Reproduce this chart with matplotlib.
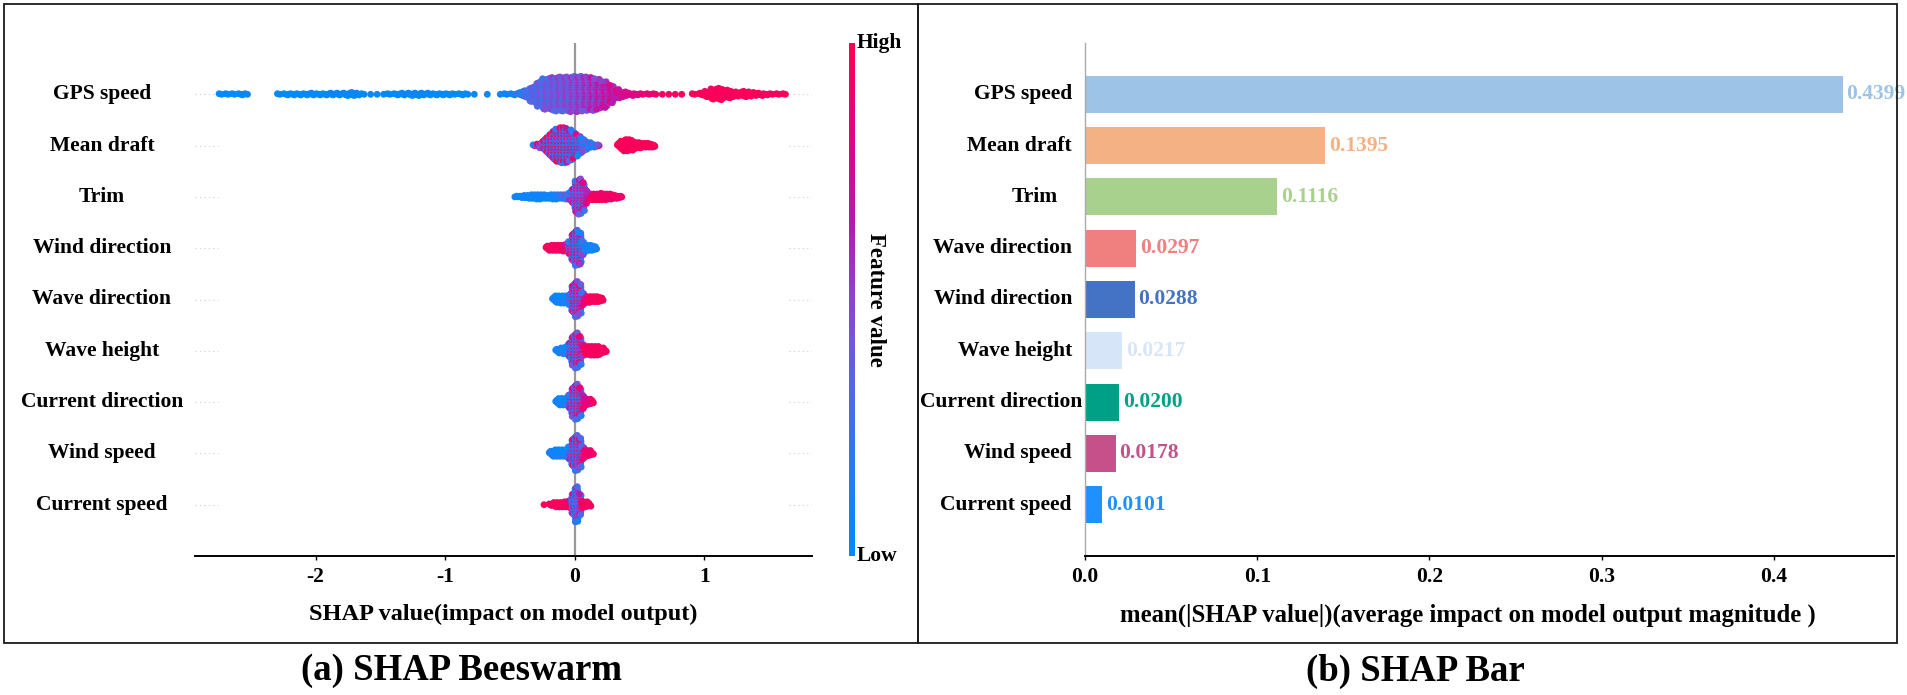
import numpy as np
import matplotlib
matplotlib.use("Agg")
import matplotlib.pyplot as plt
from matplotlib import transforms
from matplotlib.colors import LinearSegmentedColormap
from matplotlib.patches import Rectangle

plt.rcParams["font.family"] = ["Liberation Serif", "DejaVu Serif"]
plt.rcParams["font.weight"] = "bold"
plt.rcParams["axes.unicode_minus"] = False

W, H = 1908, 695

# ---- beeswarm data: per feature, bins (start, width) with sample counts,
# mean feature value (0=low, 1=high) and colour spread inside each bin ----
SWARM_FEATURES = ["GPS speed", "Mean draft", "Trim", "Wind direction", "Wave direction",
                  "Wave height", "Current direction", "Wind speed", "Current speed"]

GPS_START, GPS_WIDTH = -2.75, 0.05
GPS_N = [2, 2, 2, 3, 2, 0, 0, 0, 0,
         2, 3, 3, 3, 3, 4, 3, 3, 4, 4, 5, 6, 4, 2,
         1, 1, 1, 2,
         3, 4, 5, 5, 4, 4, 3, 3, 3, 2, 3, 2, 1,
         0, 1, 0, 1, 2,
         3, 6, 12, 25, 42, 52, 56, 58, 58, 60, 60, 58, 56, 52, 45, 30, 16, 9, 5, 3, 2, 2, 2, 1, 1, 1, 1, 0,
         2, 4, 10, 18, 20, 14, 10, 8, 10, 7, 5, 3, 2, 2, 2]
GPS_C = ([0.03] * 41 + [0.05, 0.05, 0.06, 0.08] +
         [0.12, 0.18, 0.24, 0.30, 0.34, 0.37, 0.40, 0.42, 0.44, 0.46, 0.49, 0.52, 0.56, 0.60,
          0.64, 0.68, 0.72, 0.76, 0.80, 0.84, 0.87, 0.88, 0.90, 0.90, 0.92, 0.92, 0.93, 0.95] +
         [0.97] * 15)
GPS_S = [0.02] * 47 + [0.13] * 15 + [0.02] * 26

DRAFT_START, DRAFT_WIDTH = -0.325, 0.025
DRAFT_N = [2, 4, 8, 14, 22, 30, 38, 44, 48, 48, 46, 42, 36, 30, 24, 18, 12, 8, 5, 3, 2,
           0, 0, 0, 0, 0,
           6, 12, 16, 16, 14, 10, 8, 7, 6, 6, 5, 3]
DRAFT_C = ([0.5, 0.55, 0.55, 0.6, 0.6, 0.6, 0.55, 0.55, 0.5, 0.5, 0.5, 0.45, 0.45, 0.4, 0.35,
            0.3, 0.25, 0.2, 0.2, 0.3, 0.6] + [0.0] * 5 + [0.97] * 12)
DRAFT_S = [0.45] * 15 + [0.25] * 6 + [0.0] * 5 + [0.02] * 12

TRIM_START, TRIM_WIDTH = -0.475, 0.025
TRIM_N = [1, 2, 3, 4, 5, 6, 6, 7, 7, 6, 5, 6, 7, 7, 6, 6, 7, 10, 22, 45, 50, 40, 20, 10,
          9, 9, 9, 10, 9, 8, 7, 5, 3, 2]
TRIM_C = [0.06] * 13 + [0.10, 0.15, 0.22, 0.30, 0.38, 0.48, 0.52, 0.52, 0.55, 0.62, 0.75] + [0.93] * 10
TRIM_S = [0.04] * 13 + [0.1, 0.1, 0.15, 0.2, 0.25, 0.3, 0.3, 0.3, 0.3, 0.25, 0.15] + [0.04] * 10

WINDDIR_START, WINDDIR_WIDTH = -0.225, 0.025
WINDDIR_N = [6, 8, 8, 8, 8, 9, 10, 18, 40, 50, 45, 20, 9, 8, 7, 4]
WINDDIR_C = [0.95] * 6 + [0.85, 0.6, 0.5, 0.45, 0.4, 0.3] + [0.08] * 4
WINDDIR_S = [0.03] * 6 + [0.1, 0.35, 0.4, 0.4, 0.4, 0.3] + [0.05] * 4

WAVEDIR_START, WAVEDIR_WIDTH = -0.175, 0.025
WAVEDIR_N = [6, 10, 11, 11, 10, 16, 40, 50, 42, 18, 9, 9, 8, 8, 7, 4]
WAVEDIR_C = [0.08] * 5 + [0.3, 0.5, 0.55, 0.55, 0.6, 0.8] + [0.96] * 5
WAVEDIR_S = [0.05] * 5 + [0.25, 0.4, 0.4, 0.4, 0.35, 0.15] + [0.02] * 5

WAVEH_START, WAVEH_WIDTH = -0.15, 0.025
WAVEH_N = [5, 8, 9, 10, 22, 42, 50, 40, 16, 12, 13, 13, 13, 12, 8, 3]
WAVEH_C = [0.08] * 4 + [0.35, 0.5, 0.5, 0.55, 0.7] + [0.95] * 7
WAVEH_S = [0.05] * 4 + [0.35, 0.4, 0.4, 0.4, 0.25] + [0.03] * 7

CURDIR_START, CURDIR_WIDTH = -0.15, 0.025
CURDIR_N = [6, 10, 10, 10, 20, 42, 50, 40, 20, 10, 8, 4]
CURDIR_C = [0.08] * 4 + [0.4, 0.5, 0.5, 0.55, 0.65] + [0.85, 0.85, 0.9]
CURDIR_S = [0.05] * 4 + [0.35, 0.4, 0.4, 0.4, 0.3] + [0.1] * 3

WINDSP_START, WINDSP_WIDTH = -0.2, 0.025
WINDSP_N = [6, 9, 10, 10, 10, 11, 18, 40, 50, 42, 18, 10, 8, 3]
WINDSP_C = [0.08] * 6 + [0.35, 0.45, 0.45, 0.5, 0.6] + [0.92] * 3
WINDSP_S = [0.05] * 6 + [0.35, 0.4, 0.4, 0.4, 0.3] + [0.05] * 3

CURSP_START, CURSP_WIDTH = -0.25, 0.025
CURSP_N = [1, 0, 3, 6, 7, 7, 8, 8, 10, 30, 50, 30, 10, 8, 5]
CURSP_C = [0.96] * 9 + [0.4, 0.35, 0.4] + [0.95] * 3
CURSP_S = [0.02] * 8 + [0.2] + [0.3, 0.3, 0.3] + [0.02] * 3

SWARM_DATA = [
    (GPS_START, GPS_WIDTH, GPS_N, GPS_C, GPS_S),
    (DRAFT_START, DRAFT_WIDTH, DRAFT_N, DRAFT_C, DRAFT_S),
    (TRIM_START, TRIM_WIDTH, TRIM_N, TRIM_C, TRIM_S),
    (WINDDIR_START, WINDDIR_WIDTH, WINDDIR_N, WINDDIR_C, WINDDIR_S),
    (WAVEDIR_START, WAVEDIR_WIDTH, WAVEDIR_N, WAVEDIR_C, WAVEDIR_S),
    (WAVEH_START, WAVEH_WIDTH, WAVEH_N, WAVEH_C, WAVEH_S),
    (CURDIR_START, CURDIR_WIDTH, CURDIR_N, CURDIR_C, CURDIR_S),
    (WINDSP_START, WINDSP_WIDTH, WINDSP_N, WINDSP_C, WINDSP_S),
    (CURSP_START, CURSP_WIDTH, CURSP_N, CURSP_C, CURSP_S),
]
SWARM_TICKS = [-2, -1, 0, 1]

# ---- bar data ----
BAR_FEATURES = ["GPS speed", "Mean draft", "Trim", "Wave direction", "Wind direction",
                "Wave height", "Current direction", "Wind speed", "Current speed"]
BAR_VALUES = [0.4399, 0.1395, 0.1116, 0.0297, 0.0288, 0.0217, 0.0200, 0.0178, 0.0101]
BAR_COLORS = ["#9DC3E6", "#F4B183", "#A9D18E", "#F08080", "#4472C4",
              "#D6E5F7", "#00A087", "#C5508A", "#1E90FF"]
BAR_TICKS = [0.0, 0.1, 0.2, 0.3, 0.4]

cmap = LinearSegmentedColormap.from_list(
    "shap_red_blue",
    [(0.0, "#008BFB"), (0.2, "#2F78F2"), (0.4, "#6B5BDD"), (0.5, "#8C45CF"),
     (0.65, "#B51AAE"), (0.8, "#DD0688"), (1.0, "#FF0052")])


def fig_rect(x0, y0, x1, y1):
    """pixel box (top-down) -> figure fraction rect"""
    return [x0 / W, 1 - y1 / H, (x1 - x0) / W, (y1 - y0) / H]


def draw_swarm(ax, row, start, width, counts, cvals, spread):
    peak = max(counts)
    step = 0.35 / (peak / 2)
    xs, ys, vs = [], [], []
    for i, n in enumerate(counts):
        lo = start + i * width
        for k in range(n):
            xs.append(lo + ((k * 0.618034 + 0.5) % 1.0) * width)
            layer = (k + 1) // 2
            ys.append(row + (layer if k % 2 else -layer) * step)
            vs.append(cvals[i] + spread[i] * np.cos(k * 2.39996))
    ax.scatter(xs, ys, c=np.clip(vs, 0, 1), cmap=cmap, vmin=0, vmax=1,
               s=24, linewidths=0, zorder=3)


fig = plt.figure(figsize=(W / 100, H / 100), dpi=100)
n = len(SWARM_FEATURES)
rows = np.arange(n)[::-1]  # top feature gets highest y

# ---------------- (a) beeswarm ----------------
ax = fig.add_axes(fig_rect(195, 43, 812, 556))
xmin, xmax = -2.93, 1.83
ax.axvline(0, color="#999999", lw=1.6, zorder=1)
for (start, width, cnt, cv, sp), r in zip(SWARM_DATA, rows):
    ax.plot([xmin, xmin + 0.18], [r, r], color="#cccccc", lw=0.8, ls=(0, (1, 3)), zorder=0)
    ax.plot([xmax - 0.18, xmax], [r, r], color="#cccccc", lw=0.8, ls=(0, (1, 3)), zorder=0)
    draw_swarm(ax, r, start, width, cnt, cv, sp)
ax.set_xlim(xmin, xmax)
ax.set_ylim(-1, n)
ax.set_yticks([])
ax.set_xticks(SWARM_TICKS)
ax.set_xticklabels([str(t) for t in SWARM_TICKS])
for s in ("left", "top", "right"):
    ax.spines[s].set_visible(False)
ax.spines["bottom"].set_linewidth(1.4)
ax.tick_params(axis="x", labelsize=15.5, length=3, width=1, pad=5)
ax.set_xlabel("SHAP value(impact on model output)", fontsize=17.5, fontweight="bold", labelpad=12)
lab_tr = transforms.blended_transform_factory(fig.transFigure, ax.transData)
for name, r in zip(SWARM_FEATURES, rows):
    ax.text(102 / W, r, name, transform=lab_tr, ha="center", va="center", fontsize=15.5)

cax = fig.add_axes(fig_rect(849, 43, 855, 556))
grad = np.linspace(0, 1, 256).reshape(-1, 1)
cax.imshow(grad, cmap=cmap, aspect="auto", origin="lower", extent=[0, 1, 0, 1])
cax.set_axis_off()
cax.text(1.3, 1.0, "High", transform=cax.transAxes, ha="left", va="center", fontsize=15.5)
cax.text(1.3, 0.0, "Low", transform=cax.transAxes, ha="left", va="center", fontsize=15.5)
cax.text(4.5, 0.5, "Feature value", transform=cax.transAxes, ha="center", va="center",
         rotation=270, fontsize=16.5)

# ---------------- (b) bar ----------------
bx = fig.add_axes(fig_rect(1085, 43, 1894, 556))
bx.barh(rows, BAR_VALUES, height=0.72, color=BAR_COLORS, zorder=2)
for v, c, r in zip(BAR_VALUES, BAR_COLORS, rows):
    bx.text(v + 0.0023, r, f"{v:.4f}", color=c, ha="left", va="center", fontsize=15.5)
bx.set_xlim(0, 0.4698)
bx.set_ylim(-1, n)
bx.set_yticks([])
bx.set_xticks(BAR_TICKS)
bx.set_xticklabels([f"{t:.1f}" for t in BAR_TICKS])
for s in ("top", "right"):
    bx.spines[s].set_visible(False)
bx.spines["left"].set_color("#aaaaaa")
bx.spines["left"].set_linewidth(1.0)
bx.spines["bottom"].set_linewidth(1.4)
bx.tick_params(axis="x", labelsize=15.5, length=3, width=1, pad=5)
bx.set_xlabel("mean(|SHAP value|)(average impact on model output magnitude )",
              fontsize=17.8, fontweight="bold", labelpad=10)
bx.xaxis.set_label_coords(0.473, -0.093)
blab_tr = transforms.blended_transform_factory(fig.transFigure, bx.transData)
label_right = {"Trim": 1058, "Current direction": 1082}
for name, r in zip(BAR_FEATURES, rows):
    bx.text(label_right.get(name, 1072) / W, r, name, transform=blab_tr,
            ha="right", va="center", fontsize=15.5)

# ---------------- frames and captions ----------------
for x0, x1 in ((4, 918), (918, 1897)):
    x, y, w, h = fig_rect(x0, 4, x1, 643)
    fig.add_artist(Rectangle((x, y), w, h, transform=fig.transFigure, fill=False,
                             lw=1.3, ec="#1a1a1a"))
fig.text(462 / W, 1 - 671 / H, "(a) SHAP Beeswarm", ha="center", va="center", fontsize=26.5)
fig.text(1415 / W, 1 - 671 / H, "(b) SHAP Bar", ha="center", va="center", fontsize=26.5)

fig.savefig("out.png", dpi=100)
